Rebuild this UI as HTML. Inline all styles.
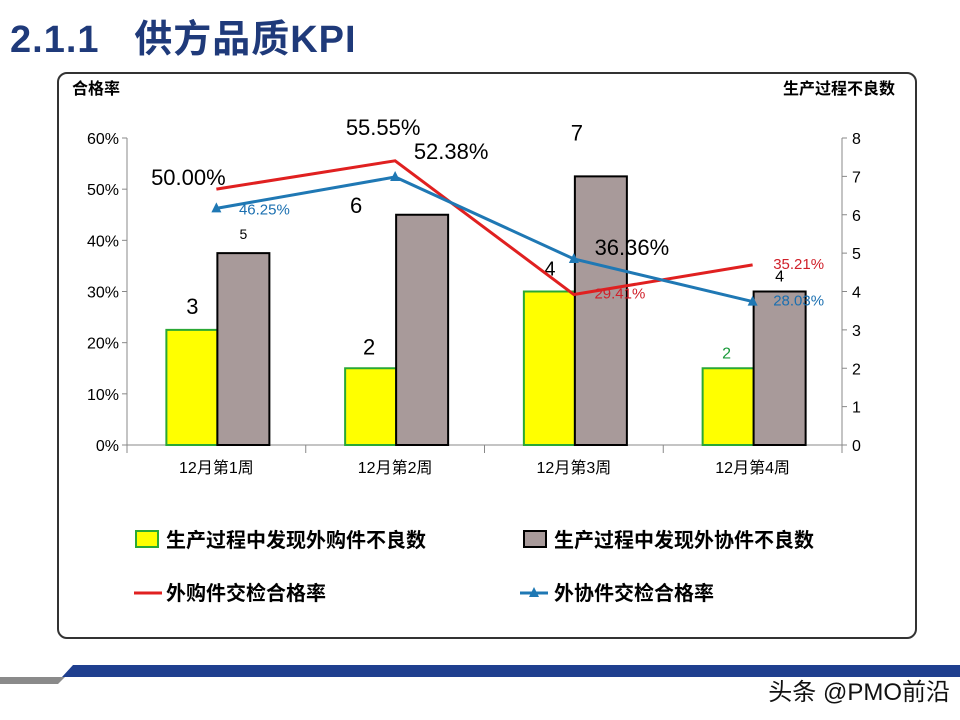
<!DOCTYPE html>
<html><head><meta charset="utf-8"><style>
body{margin:0;width:960px;height:720px;background:#fff;overflow:hidden;position:relative;font-family:"Liberation Sans","Noto Sans CJK SC",sans-serif}
#title{position:absolute;left:10px;top:8px;font-size:38px;font-weight:bold;color:#1f3a7a;letter-spacing:1px}
#box{position:absolute;left:57px;top:72px;width:860px;height:567px;border:2px solid #333;border-radius:10px;box-sizing:border-box}
svg{position:absolute;left:0;top:0}
text{font-family:"Liberation Sans","Noto Sans CJK SC",sans-serif}
</style></head><body>
<div id="title">2.1.1&nbsp;&nbsp;&nbsp;供方品质KPI</div>
<div id="box"></div>
<svg id="c" width="960" height="720"></svg>
<script>
const categories=["12月第1周","12月第2周","12月第3周","12月第4周"];
const purchasedDefects=[3,2,4,2];
const outsourcedDefects=[5,6,7,4];
const purchasedRate=[50.00,55.55,29.41,35.21];
const outsourcedRate=[46.25,52.38,36.36,28.03];
const leftTicks=[0,10,20,30,40,50,60];
const rightTicks=[0,1,2,3,4,5,6,7,8];
// label offsets (style only)
const yLabOff=[[-24,-16,22,"#000"],[-26,-14,22,"#000"],[-24,-16,20,"#000"],[-26,-10,16,"#1a9a3a"]];
const gLabOff=[[0,-14,14,"#000"],[-66,-2,22,"#000"],[-24,-36,22,"#000"],[0,-10,16,"#000"]];
const rLabOff=[[-28,-4,22,"#000"],[-12,-26,22,"#000"],[46,4,15,"#d0202a"],[46,4,15,"#d0202a"]];
const bLabOff=[[48,6,15,"#1a6fb0"],[56,-18,22,"#000"],[58,-4,22,"#000"],[46,4,15,"#1a6fb0"]];
const svg=document.getElementById('c');const NS="http://www.w3.org/2000/svg";
const L=127,R=842,T=138,B=445;
const xC=i=>L+(R-L)/4*(i+0.5);
const yL=v=>B-(B-T)*v/60;
const yR=v=>B-(B-T)*v/8;
function el(t,a,p){const e=document.createElementNS(NS,t);for(const k in a)e.setAttribute(k,a[k]);(p||svg).appendChild(e);return e;}
function tx(s,x,y,sz,col,anchor,w){const e=el('text',{x:x,y:y,'font-size':sz,fill:col,'text-anchor':anchor||'middle','font-weight':w||'normal'});e.textContent=s;return e;}
let a=el('line',{x1:L,y1:T,x2:L,y2:B,stroke:'#888'});
a=el('line',{x1:R,y1:T,x2:R,y2:B,stroke:'#888'});
a=el('line',{x1:L,y1:B,x2:R,y2:B,stroke:'#888'});
leftTicks.forEach(v=>{el('line',{x1:L-5,x2:L,y1:yL(v),y2:yL(v),stroke:'#888'});const t=tx(v+'%',L-8,yL(v)+6,16,'#000','end');});
rightTicks.forEach(v=>{el('line',{x1:R,x2:R+5,y1:yR(v),y2:yR(v),stroke:'#888'});const t=tx(v,R+10,yR(v)+6,16,'#000','start');});
for(let i=0;i<=4;i++){const x=L+(R-L)/4*i;el('line',{x1:x,x2:x,y1:B,y2:B+8,stroke:'#888'});}
categories.forEach((c,i)=>{const t=tx(c,xC(i),B+28,16,'#000');});
let t=tx('合格率',72,94,16,'#000','start','bold');
t=tx('生产过程不良数',895,94,16,'#000','end','bold');
categories.forEach((c,i)=>{
 const x=xC(i);
 let r=el('rect',{x:x-50,y:yR(purchasedDefects[i]),width:51,height:B-yR(purchasedDefects[i]),fill:'#ffff00',stroke:'#2aa835','stroke-width':2});
 
 r=el('rect',{x:x+1,y:yR(outsourcedDefects[i]),width:52,height:B-yR(outsourcedDefects[i]),fill:'#a89a9a',stroke:'#000','stroke-width':2});
 
 let o=yLabOff[i];t=tx(purchasedDefects[i],x+o[0],yR(purchasedDefects[i])+o[1],o[2],o[3]);
 o=gLabOff[i];t=tx(outsourcedDefects[i],x+27+o[0],yR(outsourcedDefects[i])+o[1],o[2],o[3]);
});
let p=el('polyline',{points:purchasedRate.map((v,i)=>xC(i)+','+yL(v)).join(' '),fill:'none',stroke:'#e02020','stroke-width':3});

p=el('polyline',{points:outsourcedRate.map((v,i)=>xC(i)+','+yL(v)).join(' '),fill:'none',stroke:'#1f78b4','stroke-width':3});

outsourcedRate.forEach((v,i)=>{const x=xC(i),y=yL(v);const m=el('polygon',{points:`${x},${y-6} ${x-5},${y+4} ${x+5},${y+4}`,fill:'#1f78b4'});});
purchasedRate.forEach((v,i)=>{const o=rLabOff[i];t=tx(v.toFixed(2)+'%',xC(i)+o[0],yL(v)+o[1],o[2],o[3]);});
outsourcedRate.forEach((v,i)=>{const o=bLabOff[i];t=tx(v.toFixed(2)+'%',xC(i)+o[0],yL(v)+o[1],o[2],o[3]);});
let g=el('g',{});
el('rect',{x:136,y:531,width:22,height:16,fill:'#ffff00',stroke:'#2aa835','stroke-width':2},g);
t=tx('生产过程中发现外购件不良数',166,547,20,'#000','start','bold');g.appendChild(t);
el('rect',{x:524,y:531,width:22,height:16,fill:'#a89a9a',stroke:'#000','stroke-width':2},g);
t=tx('生产过程中发现外协件不良数',554,547,20,'#000','start','bold');g.appendChild(t);
el('line',{x1:134,x2:162,y1:593,y2:593,stroke:'#e02020','stroke-width':3},g);
t=tx('外购件交检合格率',166,600,20,'#000','start','bold');g.appendChild(t);
el('line',{x1:520,x2:548,y1:593,y2:593,stroke:'#1f78b4','stroke-width':3},g);
el('polygon',{points:'534,587 529,597 539,597',fill:'#1f78b4'},g);
t=tx('外协件交检合格率',554,600,20,'#000','start','bold');g.appendChild(t);
let f=el('polygon',{points:'0,677 65,677 58,684 0,684',fill:'#8a8a8a'});
f=el('polygon',{points:'73,665 960,665 960,677 62,677',fill:'#1f3f8f'});
t=tx('头条 @PMO前沿',950,700,24,'#111','end');
</script>
</body></html>
